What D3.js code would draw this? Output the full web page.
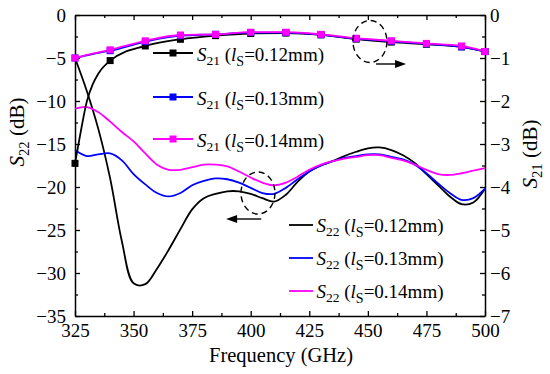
<!DOCTYPE html>
<html lang="en">
<head>
<meta charset="UTF-8">
<title>S22 / S21 vs frequency</title>
<script src="https://d3js.org/d3.v7.min.js"></script>
<style>
  body { margin: 0; background: #fff; }
</style>
</head>
<body>
<svg id="chart" width="550" height="374"></svg>
<script>
// ---- data ----
const seriesNames = ["0.12mm", "0.13mm", "0.14mm"];
const seriesColors = ["#000000", "#0000ff", "#ff00ff"];

// S22 (left axis, dB)
const s22Freq = [325, 330, 335, 340, 345, 350, 355, 360, 365, 370, 375, 380, 385, 390, 395, 400,
                 405, 410, 415, 420, 425, 430, 435, 440, 445, 450, 455, 460, 465, 470, 475, 480,
                 485, 490, 495, 500];
const s22_012 = [-5.0, -8.8, -13.3, -19.0, -26.3, -31.2, -31.3, -29.5, -27.3, -24.9, -22.6, -21.3,
                 -20.8, -20.5, -20.5, -20.8, -21.3, -21.7, -20.9, -19.4, -18.2, -17.5, -17.0, -16.4,
                 -15.9, -15.5, -15.4, -15.7, -16.3, -17.2, -18.5, -19.8, -21.1, -22.0, -21.8, -20.2];
const s22_013 = [-15.7, -16.4, -16.2, -16.1, -16.9, -18.5, -19.7, -20.7, -21.1, -20.7, -19.8, -19.3,
                 -19.0, -19.1, -19.5, -20.1, -20.7, -20.8, -20.1, -19.1, -18.2, -17.5, -17.0, -16.6,
                 -16.4, -16.2, -16.2, -16.5, -16.8, -17.4, -18.4, -19.6, -20.7, -21.5, -21.3, -20.2];
const s22_014 = [-10.9, -10.7, -11.3, -12.4, -13.6, -14.7, -16.1, -17.4, -18.0, -18.0, -17.7, -17.4,
                 -17.4, -17.6, -18.2, -18.9, -19.5, -19.8, -19.5, -18.8, -18.0, -17.4, -17.0, -16.7,
                 -16.5, -16.3, -16.3, -16.6, -16.9, -17.4, -18.0, -18.5, -18.6, -18.4, -18.1, -17.8];

// S21 (right axis, dB)
const s21Freq = [325, 327.5, 330, 332.5, 335, 340, 355, 370, 385, 400, 415, 430, 445, 460, 475, 490, 500];
const s21Marks = [325, 340, 355, 370, 385, 400, 415, 430, 445, 460, 475, 490, 500];
const s21_012 = [-3.45, -2.7, -2.02, -1.62, -1.36, -1.06, -0.72, -0.565, -0.48, -0.43, -0.42, -0.46,
                 -0.56, -0.63, -0.68, -0.74, -0.85];
const s21_013 = [-1.0, -0.97, -0.94, -0.91, -0.88, -0.83, -0.62, -0.48, -0.45, -0.41, -0.41, -0.46,
                 -0.55, -0.61, -0.67, -0.74, -0.85];
const s21_014 = [-1.0, -0.97, -0.93, -0.9, -0.87, -0.81, -0.6, -0.465, -0.45, -0.4, -0.4, -0.45,
                 -0.54, -0.6, -0.66, -0.72, -0.85];

const xTicks = [325, 350, 375, 400, 425, 450, 475, 500];
const yLTicks = [0, -5, -10, -15, -20, -25, -30, -35];
const yRTicks = [0, -1, -2, -3, -4, -5, -6, -7];

// ---- scales ----
const L = 75, R = 485, T = 15, B = 316;
const svg = d3.select("#chart");
const x = d3.scaleLinear().domain([325, 500]).range([L, R]);
const yL = d3.scaleLinear().domain([-35, 0]).range([B, T]);
const yR = d3.scaleLinear().domain([-7, 0]).range([B, T]);

const fs = 19;
const minorX = d3.range(337.5, 500, 25);
const minorYL = d3.range(-32.5, 0, 5);
const minorYR = d3.range(-6.5, 0, 1);
const intFmt = d3.format("d");

function styleAxis(g) {
  g.attr("font-family", null);
  g.select(".domain").attr("stroke", "#000").attr("stroke-width", 1.5);
  g.selectAll(".tick line").attr("stroke", "#000").attr("stroke-width", 1.3);
  g.selectAll(".tick text").attr("font-size", fs);
}

// bottom
svg.append("g").attr("transform", `translate(0,${B})`)
  .call(d3.axisBottom(x).tickValues(xTicks).tickSize(-5).tickSizeOuter(0).tickPadding(8))
  .call(styleAxis);
svg.append("g").attr("transform", `translate(0,${B})`)
  .call(d3.axisBottom(x).tickValues(minorX).tickSize(-3).tickFormat(""))
  .call(styleAxis).select(".domain").remove();
// top
svg.append("g").attr("transform", `translate(0,${T})`)
  .call(d3.axisTop(x).tickValues(xTicks).tickSize(-5).tickSizeOuter(0).tickFormat(""))
  .call(styleAxis);
svg.append("g").attr("transform", `translate(0,${T})`)
  .call(d3.axisTop(x).tickValues(minorX).tickSize(-3).tickFormat(""))
  .call(styleAxis).select(".domain").remove();
// left
svg.append("g").attr("transform", `translate(${L},0)`)
  .call(d3.axisLeft(yL).tickValues(yLTicks).tickSize(-5).tickSizeOuter(0).tickPadding(9).tickFormat(intFmt))
  .call(styleAxis);
svg.append("g").attr("transform", `translate(${L},0)`)
  .call(d3.axisLeft(yL).tickValues(minorYL).tickSize(-3).tickFormat(""))
  .call(styleAxis).select(".domain").remove();
// right
svg.append("g").attr("transform", `translate(${R},0)`)
  .call(d3.axisRight(yR).tickValues(yRTicks).tickSize(-5).tickSizeOuter(0).tickPadding(5).tickFormat(intFmt))
  .call(styleAxis);
svg.append("g").attr("transform", `translate(${R},0)`)
  .call(d3.axisRight(yR).tickValues(minorYR).tickSize(-3).tickFormat(""))
  .call(styleAxis).select(".domain").remove();

// axis titles
svg.append("text").attr("x", 281).attr("y", 362).attr("text-anchor", "middle")
  .attr("font-size", 20.5).text("Frequency (GHz)");

function subTitle(g, main, sub, rest, size) {
  const t = g.append("text").attr("font-size", size).attr("text-anchor", "middle");
  t.append("tspan").attr("font-style", "italic").text(main);
  t.append("tspan").attr("font-size", size * 0.7).attr("dy", size * 0.25).text(sub);
  t.append("tspan").attr("dy", -size * 0.25).text(rest);
  return t;
}
subTitle(svg.append("g").attr("transform", "translate(24,132) rotate(-90)"), "S", "22", " (dB)", 21);
subTitle(svg.append("g").attr("transform", "translate(537,154) rotate(-90)"), "S", "21", " (dB)", 21);

// ---- lines ----
const plot = svg.append("g");
const s22Sets = [s22_012, s22_013, s22_014];
const s21Sets = [s21_012, s21_013, s21_014];

const line22 = d3.line().x(d => x(d[0])).y(d => yL(d[1])).curve(d3.curveCatmullRom.alpha(0.5));
s22Sets.forEach((vals, i) => {
  plot.append("path")
    .attr("d", line22(s22Freq.map((f, j) => [f, vals[j]])))
    .attr("fill", "none").attr("stroke", seriesColors[i]).attr("stroke-width", 1.8);
});

const line21 = d3.line().x(d => x(d[0])).y(d => yR(d[1])).curve(d3.curveMonotoneX);
const msz = 7;
s21Sets.forEach((vals, i) => {
  const pts = s21Freq.map((f, j) => [f, vals[j]]);
  plot.append("path").attr("d", line21(pts))
    .attr("fill", "none").attr("stroke", seriesColors[i]).attr("stroke-width", 1.8);
  plot.selectAll(null).data(pts.filter(p => s21Marks.includes(p[0]))).enter()
    .append("rect")
    .attr("x", d => x(d[0]) - msz / 2).attr("y", d => yR(d[1]) - msz / 2)
    .attr("width", msz).attr("height", msz).attr("fill", seriesColors[i]);
});

// ---- legends ----
function legendLabel(xp, yp, sub, name) {
  const t = svg.append("text").attr("x", xp).attr("y", yp).attr("font-size", fs);
  t.append("tspan").attr("font-style", "italic").text("S");
  t.append("tspan").attr("font-size", 13.5).attr("dy", 4).text(sub);
  t.append("tspan").attr("dy", -4).text(" (");
  t.append("tspan").attr("font-style", "italic").text("l");
  t.append("tspan").attr("font-size", 14).attr("dy", 5).text("S");
  t.append("tspan").attr("dy", -5).text("=" + name + ")");
}
const leg21Y = [53, 97, 139];
seriesNames.forEach((n, i) => {
  svg.append("line").attr("x1", 153).attr("x2", 193).attr("y1", leg21Y[i]).attr("y2", leg21Y[i])
    .attr("stroke", seriesColors[i]).attr("stroke-width", 1.8);
  svg.append("rect").attr("x", 173 - msz / 2).attr("y", leg21Y[i] - msz / 2)
    .attr("width", msz).attr("height", msz).attr("fill", seriesColors[i]);
  legendLabel(197, leg21Y[i] + 8, "21", n);
});
const leg22Y = [225, 258, 291];
seriesNames.forEach((n, i) => {
  svg.append("line").attr("x1", 289).attr("x2", 313).attr("y1", leg22Y[i]).attr("y2", leg22Y[i])
    .attr("stroke", seriesColors[i]).attr("stroke-width", 1.8);
  legendLabel(316.5, leg22Y[i] + 7, "22", n);
});

// ---- annotations: dashed ellipses + arrows ----
function annot(cx, cy, x1, x2, ay) {
  svg.append("ellipse").attr("cx", cx).attr("cy", cy).attr("rx", 17).attr("ry", 21)
    .attr("fill", "none").attr("stroke", "#000").attr("stroke-width", 1.4)
    .attr("stroke-dasharray", "6,4");
  const dir = Math.sign(x2 - x1);
  svg.append("line").attr("x1", x1).attr("x2", x2 - dir * 8).attr("y1", ay).attr("y2", ay)
    .attr("stroke", "#000").attr("stroke-width", 1.4);
  svg.append("path")
    .attr("d", `M${x2},${ay} L${x2 - dir * 11},${ay - 4} L${x2 - dir * 11},${ay + 4} Z`)
    .attr("fill", "#000");
}
annot(x(403.1), yL(-20.7), x(404.5), x(389.5), 219);
annot(x(450.9), yR(-0.616), x(453.5), x(466.3), 64);

// serif everywhere, like the reference
svg.selectAll("text").style("font-family", '"Liberation Serif"').style("fill", "#000");
</script>
</body>
</html>
